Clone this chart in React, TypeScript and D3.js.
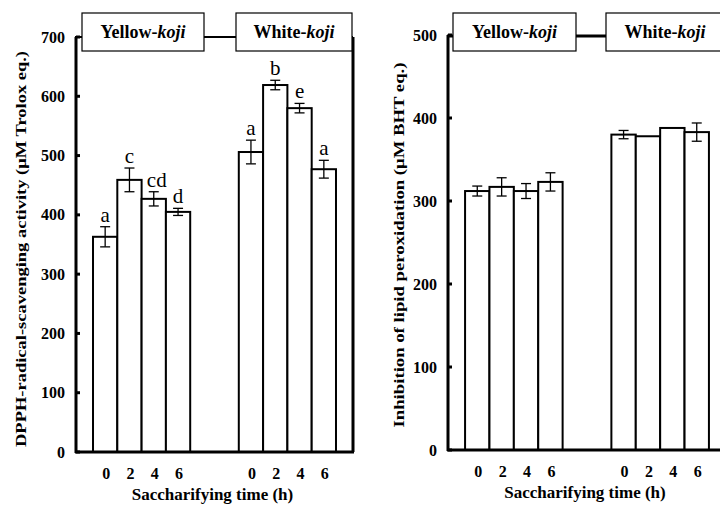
import React from "react";
import * as d3 from "d3";

const times = ["0", "2", "4", "6"];
const groupNames = ["Yellow", "White"];

const dpphYellow = [363, 459, 427, 405];
const dpphYellowErr = [17, 20, 12, 6];
const dpphYellowLetters = ["a", "c", "cd", "d"];
const dpphWhite = [506, 619, 580, 477];
const dpphWhiteErr = [20, 8, 8, 15];
const dpphWhiteLetters = ["a", "b", "e", "a"];

const lipidYellow = [312, 317, 312, 323];
const lipidYellowErr = [6, 11, 9, 11];
const lipidWhite = [380, 378, 388, 383];
const lipidWhiteErr = [5, 0, 0, 11];

const dpphTicks = [0, 100, 200, 300, 400, 500, 600, 700];
const lipidTicks = [0, 100, 200, 300, 400, 500];

// 10 slots: 4 bars, 2 empty, 4 bars
const slots = ["Y0", "Y2", "Y4", "Y6", "gap1", "gap2", "W0", "W2", "W4", "W6"];

const FONT = "'Liberation Serif', 'Times New Roman', Times, serif";

type PanelProps = {
  x0: number;
  x1: number;
  y0: number;
  y1: number;
  yMax: number;
  ticks: number[];
  yellow: number[];
  yellowErr: number[];
  white: number[];
  whiteErr: number[];
  yellowLetters?: string[];
  whiteLetters?: string[];
  yLabel: string;
  yLabelX: number;
  yLabelY: number;
  yLabelLen: number;
  boxes: { yl: [number, number]; wh: [number, number] };
  topY: number;
  rightFrame: boolean;
  joinWidth: number;
};

function Panel(p: PanelProps) {
  const x = d3.scaleBand<string>().domain(slots).range([p.x0, p.x1]).paddingInner(0).paddingOuter(0.7);
  const y = d3.scaleLinear().domain([0, p.yMax]).range([p.y0, p.y1]);
  const bw = x.bandwidth();

  const rows = [
    ...p.yellow.map((v, i) => ({ key: "Y" + times[i], v, e: p.yellowErr[i], l: p.yellowLetters?.[i] })),
    ...p.white.map((v, i) => ({ key: "W" + times[i], v, e: p.whiteErr[i], l: p.whiteLetters?.[i] })),
  ];

  return (
    <g>
      {/* top line behind boxes */}
      <line x1={p.x0 - 1} x2={p.rightFrame ? p.x1 : 720} y1={p.topY} y2={p.topY} stroke="#000" strokeWidth={p.joinWidth} />
      {/* bars */}
      {rows.map((r) => (
        <rect key={r.key} x={x(r.key)!} y={y(r.v)} width={bw} height={p.y0 - y(r.v)} fill="#fff" stroke="#000" strokeWidth={2} />
      ))}
      {/* error bars */}
      {rows.filter((r) => r.e > 0).map((r) => {
        const cx = x(r.key)! + bw / 2;
        return (
          <g key={"e" + r.key} stroke="#000" strokeWidth={1.3}>
            <line x1={cx} x2={cx} y1={y(r.v + r.e)} y2={y(r.v - r.e)} />
            <line x1={cx - 5} x2={cx + 5} y1={y(r.v + r.e)} y2={y(r.v + r.e)} />
            <line x1={cx - 5} x2={cx + 5} y1={y(r.v - r.e)} y2={y(r.v - r.e)} />
          </g>
        );
      })}
      {/* significance letters */}
      {rows.filter((r) => r.l).map((r) => (
        <text key={"l" + r.key} x={x(r.key)! + bw / 2 + (r.l!.length > 1 ? 3 : 0)} y={y(r.v + r.e) - 5} textAnchor="middle" fontFamily={FONT} fontSize={21}>
          {r.l}
        </text>
      ))}
      {/* axes */}
      <line x1={p.x0} x2={p.x0} y1={p.y1} y2={p.y0 + 1} stroke="#000" strokeWidth={3} />
      <line x1={p.x0 - 1} x2={p.rightFrame ? p.x1 + 1 : 720} y1={p.y0} y2={p.y0} stroke="#000" strokeWidth={3} />
      {p.rightFrame && <line x1={p.x1} x2={p.x1} y1={p.topY} y2={p.y0} stroke="#000" strokeWidth={3} />}
      {p.ticks.map((t) => (
        <g key={t}>
          <line x1={p.x0} x2={p.x0 + 4} y1={y(t)} y2={y(t)} stroke="#000" strokeWidth={3} />
          <text x={p.x0 - 11} y={y(t)} dy="0.35em" textAnchor="end" fontFamily={FONT} fontWeight="bold" fontSize={16}>
            {t}
          </text>
        </g>
      ))}
      {slots.filter((s) => !s.startsWith("gap")).map((s) => (
        <text key={"t" + s} x={x(s)! + bw / 2 + 1} y={p.y0 + 27} textAnchor="middle" fontFamily={FONT} fontWeight="bold" fontSize={16}>
          {s.slice(1)}
        </text>
      ))}
      <text x={(x("Y0")! + x("W6")! + bw) / 2 - 2} y={p.y0 + 48} textAnchor="middle" fontFamily={FONT} fontWeight="bold" fontSize={17}>
        Saccharifying time (h)
      </text>
      <text transform={`translate(${p.yLabelX},${p.yLabelY}) rotate(-90)`} textAnchor="middle" dy="0.35em" fontFamily={FONT} fontWeight="bold" fontSize={15} textLength={p.yLabelLen} lengthAdjust="spacingAndGlyphs">
        {p.yLabel}
      </text>
      {/* group boxes */}
      {groupNames.map((g, i) => {
        const [bx0, bx1] = i === 0 ? p.boxes.yl : p.boxes.wh;
        const cx = i === 1 && !p.rightFrame ? bx0 + 59 : (bx0 + bx1) / 2;
        return (
          <g key={g}>
            <rect x={bx0} y={13} width={bx1 - bx0} height={38} fill="#fff" stroke="#000" strokeWidth={1.2} />
            <text x={cx} y={38} textAnchor="middle" fontFamily={FONT} fontWeight="bold" fontSize={18}>
              {g}-<tspan fontStyle="italic">koji</tspan>
            </text>
          </g>
        );
      })}
    </g>
  );
}

export default function App() {
  return (
    <svg width={720} height={505} style={{ position: "absolute", left: 0, top: 0, background: "#fff" }}>
      <Panel
        x0={76}
        x1={353}
        y0={452}
        y1={37}
        yMax={700}
        ticks={dpphTicks}
        yellow={dpphYellow}
        yellowErr={dpphYellowErr}
        white={dpphWhite}
        whiteErr={dpphWhiteErr}
        yellowLetters={dpphYellowLetters}
        whiteLetters={dpphWhiteLetters}
        yLabel="DPPH-radical-scavenging activity (μM Trolox eq.)"
        yLabelX={21}
        yLabelY={249}
        yLabelLen={396}
        boxes={{ yl: [82, 204], wh: [236, 352] }}
        topY={37}
        rightFrame={true}
        joinWidth={2}
      />
      <Panel
        x0={448}
        x1={726}
        y0={450}
        y1={35}
        yMax={500}
        ticks={lipidTicks}
        yellow={lipidYellow}
        yellowErr={lipidYellowErr}
        white={lipidWhite}
        whiteErr={lipidWhiteErr}
        yLabel="Inhibition of lipid peroxidation (μM BHT eq.)"
        yLabelX={399}
        yLabelY={245}
        yLabelLen={365}
        boxes={{ yl: [453, 576], wh: [606, 740] }}
        topY={36}
        rightFrame={false}
        joinWidth={3}
      />
    </svg>
  );
}
